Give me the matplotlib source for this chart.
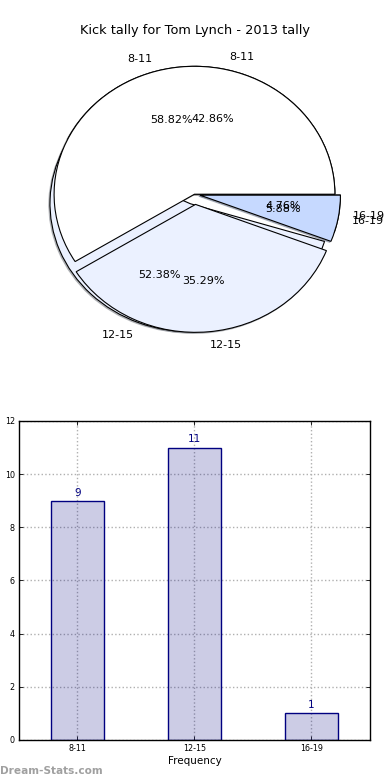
import matplotlib
matplotlib.use("Agg")
import matplotlib.pyplot as plt

categories = ["8-11", "12-15", "16-19"]
tally_a = [9, 11, 1]      # 42.86 / 52.38 / 4.76
tally_b = [10, 6, 1]      # 58.82 / 35.29 / 5.88
bar_values = [9, 11, 1]
title = "Kick tally for Tom Lynch - 2013 tally"

pie_colors = ["#ffffff", "#ebf1ff", "#c6d9ff"]
explode = [0, 0.08, 0.04]

fig = plt.figure(figsize=(3.9, 7.8), dpi=100)

# ---- pie ----
axp = fig.add_axes([0.0487, 0.546, 0.90, 0.410])
for vals in (tally_a, tally_b):
    wedges, texts, autotexts = axp.pie(
        vals, labels=categories, colors=pie_colors, explode=explode,
        autopct="%.2f%%", shadow=dict(ox=-0.006, oy=-0.006, shade=0.45), startangle=0,
        wedgeprops=dict(edgecolor="black", linewidth=0.8),
        textprops=dict(fontsize=8))
axp.set_aspect("auto")
axp.set_xlim(-1.25, 1.25)
axp.set_ylim(-1.25, 1.25)
axp.axis("off")
fig.text(0.5, 0.961, title, ha="center", va="center", fontsize=9.3)

# ---- bars ----
axb = fig.add_axes([0.0487, 0.0513, 0.90, 0.409])
x = list(range(len(categories)))
axb.bar(x, bar_values, width=0.45, color=(0, 0, 0.5, 0.2), edgecolor="navy",
        linewidth=1, zorder=2)
for xi, v in zip(x, bar_values):
    axb.text(xi, v + 0.12, str(v), ha="center", va="bottom", color="navy", fontsize=7.5)
axb.set_xlim(-0.5, 2.5)
axb.set_ylim(0, 12)
axb.set_yticks(range(0, 13, 2))
axb.set_xticks(x)
axb.set_xticklabels(categories)
axb.tick_params(axis="both", labelsize=5.8, direction="in", top=True, right=True,
                length=3, width=0.6, pad=3)
axb.grid(True, linestyle=":", color="#b0b0b0", linewidth=1, zorder=0)
axb.set_axisbelow(True)
axb.set_xlabel("Frequency", fontsize=7.5, labelpad=2)
axb.set_ylabel("Stat Intervals", fontsize=7.5, labelpad=2)
for s in axb.spines.values():
    s.set_linewidth(1)

fig.text(0.0, 0.012, "Dream-Stats.com", ha="left", va="center", fontsize=7.6,
         color="#a0a0a0", fontweight="bold")

fig.savefig("out.png", dpi=100)
